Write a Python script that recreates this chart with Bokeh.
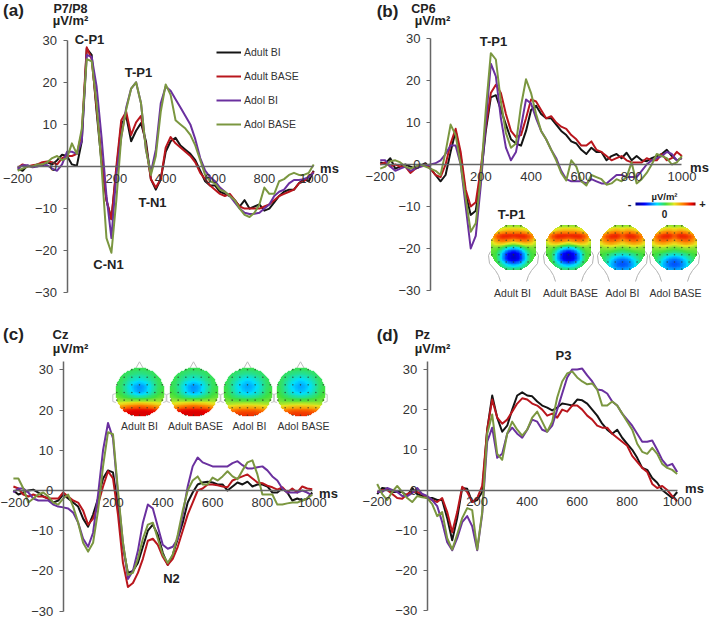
import numpy as np
from bokeh.plotting import figure
from bokeh.embed import file_html
from bokeh.resources import INLINE
from bokeh.layouts import column, row
from bokeh.models import Label, FixedTicker, LinearColorMapper, Legend, LegendItem, Range1d

time_ms = list(range(-200, 1001, 20))
series_names = ["Adult BI", "Adult BASE", "Adol BI", "Adol BASE"]
series_colors = ["#141414", "#b9161d", "#6a309f", "#7b9740"]
y_ticks = [-30, -20, -10, 0, 10, 20, 30]
x_ticks = [-200, 200, 400, 600, 800, 1000]

a_adult_bi = [-0.5,-1,0.2,0,0.5,0.2,1,0.5,1.5,2.8, 2.5,0.5,0.2,6,28,26.5,13,1,-8,-12.5,
              -1,10,12,6,8.5,10.3,6,-3,-5.5,-3, 3.5,6,6.8,5,4,3,1.5,-1,-3.5,-4.5,
              -4.5,-6,-6.5,-7,-8,-9.5,-8,-10,-9.5,-9, -10.5,-10,-8.5,-7,-6,-5.5,-5.5,-4,-3,-3.5, -1]
a_adult_base = [-0.3,0.5,0,0.3,0.5,1,1.2,1,0.5,2, 2.5,2.5,3,8,28.3,25.5,14,2,-8,-12.5,
                0,11,13,7.5,10.5,12,5,-3,-5,-3, 4.5,7,5.5,4.5,3.5,2.5,1,-1.5,-3,-4.5,
                -5.5,-6.5,-7,-6.5,-8,-9.5,-10,-10,-10,-10, -9.5,-9,-8,-7,-6.5,-6,-5.5,-4,-3.5,-2.5, -1.2]
a_adol_bi = [-0.5,0.3,0.3,-0.2,0,0.5,0.3,-0.5,-1,0.5, 3.5,3.5,3,6,26.5,26,19,7,-7,-17,
             -2,7,14,18.5,20,15,4,-1.5,4,15, 19,18,16,14,12,10,6.5,2,-1,-2.5,
             -3.5,-5,-6,-7,-8.5,-10,-11,-11.3,-11.2,-11, -10,-9,-7,-6,-5.5,-4,-3.2,-3.2,-3,-2.5, -1.5]
a_adol_base = [-1,-0.5,0,0,0.5,0.5,1,2,2.5,1.5, 2,5.5,3,9,25.5,25,15,0,-17,-20.5,
               -8,7,13.5,18.5,20,15,4,-2,2.5,13, 19.5,17,11,10,9,7.5,5,1.5,-2,-3.5,
               -4,-5.5,-6,-7,-8,-10,-11.5,-12,-11,-9, -5,-6.5,-6.5,-3.5,-3,-2,-1.5,-2,-2,-1.5, 0.5]

b_adult_bi = [0.5,0.2,1.5,-1,-0.5,0,-0.5,-1,-0.3,0.3, -1,-2.5,-4,-2.5,3,8,2,-7,-12,-11,
              -3,8,16,16.5,13,9.5,6,5,4.5,8, 13,14,12,11,11,9.5,8,7,5.5,5,
              3.5,2.5,4,3,3,1,2,2.5,1.5,2.8, 1,2,1,0.8,1.5,2,2.5,3.5,2,1, 1.5]
b_adult_base = [0,0.5,-0.5,0,-0.5,-0.5,-2,-1,-0.5,0, -1,-2.5,-3,0,5,8.5,3,-6,-10,-9,
                -1,9,17,19,17,12,8,6.5,7,11, 15.5,15,13,11,11.5,10,9,8.5,7,6,
                4.5,4.5,5.5,3.5,3,2,1,1.5,2,1, 0.5,0.5,0.5,1.5,1,1,2.5,1,1.5,3, 2]
b_adol_bi = [1,1,-0.5,-1.5,-1,-0.5,-1.5,-1,-0.5,-0.3, 0,0.3,1,2.5,4.5,4.5,0,-10,-20,-17,
             -5,10,24,21,11,4,1,3,9,15.5, 14.5,11,8,6,3.5,1.5,-1.5,-3.5,-4,-4,
             -4,-4.5,-3.5,-4,-4.5,-4.5,-3.5,-2.5,-2.5,-3, -3,-3,-1.5,0,1,1.5,2,3,2.5,1, 1.5]
b_adol_base = [-1,-0.5,0.8,1,0.5,-0.5,-1,-0.5,0,-0.5, -1,-1.5,-2.5,3,9.5,7,0,-8,-16,-14,
               -3,13,26.5,25,15,7.5,4,5,14,20.3, 17,12,8,6,3.5,1,-2,-3.8,1,-0.5,
               -4,-5,-2.5,-3,-3.5,-4.8,-4.5,-3.5,-4,-3, 0.5,-4.5,-3.5,-2,0,2.5,2,1.5,0,0.5, 2]

c_adult_bi = [0,-1,-0.5,0,0.2,-0.5,-1.5,-2,-3,-2.5, -1,-2,-3,-4,-7,-9,-6,-2,3,5,
              4.5,-4,-14,-20.5,-20,-18,-14,-10,-8.5,-11, -15.5,-18.5,-16,-12,-8,-3,-0.5,1.5,2,2.2,
              2,1.5,1.5,0,1,2,1.5,2.2,1,1.5, 1.5,1,-0.5,-0.5,0.5,-0.5,-2.5,-2,-2.5,-2, -0.5]
c_adult_base = [1,0.5,-1,-1.5,-1,-1.5,-1.5,-2,-2,-2, -0.5,-1.5,-2.5,-3,-5,-8.5,-7,-3.5,1,4.8,
                3,-6,-18,-24,-23,-20.5,-17,-12.5,-12,-13.5, -16.5,-18.5,-17,-14,-10,-6,-3,0,0.5,1.5,
                1.5,1.3,1,0.8,2.5,3,3.5,4,3,2, 1.8,1.2,0.8,0.2,0.8,-0.5,0.5,-0.5,1,0.5, 0.3]
c_adol_bi = [-0.5,0.5,0.5,-0.5,-2,-2.5,-2.5,-2.5,-3.5,-4, -4.2,-4.5,-5.5,-8,-12,-14,-10.5,-1,10,16.8,
             13,-1,-13,-22,-20,-15,-8,-3.5,-4.5,-9, -13.5,-14.5,-14,-12,-6,1,6,8.2,7,6.5,
             6,6,6,6,6.8,7.3,6.3,5.5,5.5,5.8, 6,5,3.5,2.5,0.5,-0.5,-0.5,-0.5,0,-0.5, -1.2]
c_adol_base = [3,3,0.5,-3,-2,-1,-0.5,-1.5,-3,-3.5, -2,-1,-4,-8,-13,-15.2,-13,-5,6,14.5,
               14,0,-13,-21,-20.5,-17,-12,-8.5,-8,-12, -16,-18,-16,-11,-5,0,2.5,3.5,1.5,1.5,
               3.2,2.5,3.5,4.8,3.5,2.8,5,7,7.5,4, -1,-1,-1,-3.5,-3.5,-3.2,-3,-3,-2.5,-2, -1]

d_adult_bi = [-1,0.5,0.3,-0.5,-0.5,-0.5,-1.5,0.5,-1,-1.5, -2,-2,-2.5,-2.5,-7,-12.5,-7,0.5,0.3,-3,
              -2.5,-0.5,15,23.5,18,14.5,16,20,23.5,24.3, 23.5,23.3,22,21,20.5,19.8,20.5,21.5,21.3,21,
              22.5,22.3,21.5,20,18.5,16.5,15,14,15,13, 11.5,10,8,5.5,5,3,1.8,0,-1,-2, -0.5]
d_adult_base = [-0.5,0,0,-1,-2,-2.2,-1,-0.5,-0.5,-1, -2,-2.5,-3,-2,-5.5,-10.5,-5.5,0.8,-0.5,-3,
                -2,1,15,22.5,18,16.5,17.5,19.5,21.5,22.8, 22.5,21.5,21,20,18.5,19,18,20,19.5,21,
                21,20,18.5,17.5,16,15.5,15.5,14,13,12, 11,8.5,7,5.5,4.5,1.5,0.5,1,0,-1.5, -2.8]
d_adol_bi = [-0.5,-0.5,0.5,0,-0.5,-1.5,-1.5,-0.8,0.5,-1, -1.5,-2.5,-4,-8,-13,-15,-12,-8,-6.5,-9,
             -15,-6,12,15.5,8,9,14,15.5,14,13, 15,17.5,17,15,14.5,16,20,24,28,30,
             30,30.2,28.5,27,25,24.8,24,22,21,19, 17.5,16,14,12,12,12.3,10,7.5,6,6.5, 4.5]
d_adol_base = [1.5,-1,-2.5,-0.5,1,-0.5,-2,-3,-1.5,-1.8, -2,-3.5,-6.5,-5.5,-12,-14.8,-11,-7,-4.5,-5,
               -14.8,-5.5,14,18.8,9,7.5,14,17,15,13.5, 15,18,19.5,17,14.5,17,23,27,29,29.5,
               28,27,26.3,26.5,25,21,21,22,21,19, 17,15,11.5,9.5,9,10.5,9,6.5,5.5,5, 4]

panel_series = {
    "a": [a_adult_bi, a_adult_base, a_adol_bi, a_adol_base],
    "b": [b_adult_bi, b_adult_base, b_adol_bi, b_adol_base],
    "c": [c_adult_bi, c_adult_base, c_adol_bi, c_adol_base],
    "d": [d_adult_bi, d_adult_base, d_adol_bi, d_adol_base],
}

# scalp maps: coarse fields, front row first, 0 = most negative, 1 = most positive
tp1_adult = [[.52]*9,
             [.55,.60,.68,.72,.72,.72,.68,.60,.55],
             [.68,.86,.93,.94,.93,.94,.93,.86,.68],
             [.60,.74,.80,.76,.70,.76,.80,.74,.60],
             [.55,.55,.50,.40,.36,.40,.50,.55,.55],
             [.52,.50,.34,.16,.08,.16,.34,.50,.52],
             [.52,.50,.32,.14,.07,.14,.32,.50,.52],
             [.52,.52,.44,.34,.30,.34,.44,.52,.52],
             [.50]*9]
tp1_adol = [[.52]*9,
            [.56,.62,.70,.74,.70,.74,.70,.62,.56],
            [.70,.86,.92,.94,.86,.94,.92,.86,.70],
            [.66,.78,.82,.78,.72,.78,.82,.78,.66],
            [.56,.58,.60,.57,.55,.57,.60,.58,.56],
            [.52,.50,.47,.44,.42,.44,.47,.50,.52],
            [.50,.45,.36,.28,.25,.28,.36,.45,.50],
            [.50,.44,.32,.24,.21,.24,.32,.44,.50],
            [.48,.44,.38,.33,.31,.33,.38,.44,.48]]
n2_adult = [[.49]*9,
            [.49,.49,.47,.45,.44,.45,.47,.49,.49],
            [.49,.48,.44,.39,.37,.39,.44,.48,.49],
            [.49,.47,.39,.31,.27,.31,.39,.47,.49],
            [.51,.48,.41,.33,.29,.33,.41,.48,.51],
            [.55,.53,.50,.47,.46,.47,.50,.53,.55],
            [.66,.68,.72,.75,.77,.75,.72,.68,.66],
            [.84,.90,.95,.96,.96,.96,.95,.90,.84],
            [.88,.90,.95,.95,.95,.95,.95,.90,.88]]
n2_adol = [[.49]*9,
           [.49,.48,.46,.44,.43,.44,.46,.48,.49],
           [.49,.47,.42,.37,.34,.37,.42,.47,.49],
           [.49,.46,.38,.32,.29,.32,.38,.46,.49],
           [.51,.47,.40,.35,.32,.35,.40,.47,.51],
           [.53,.51,.48,.46,.45,.46,.48,.51,.53],
           [.60,.60,.62,.63,.64,.63,.62,.60,.60],
           [.76,.80,.84,.86,.86,.86,.84,.80,.76],
           [.82,.84,.88,.90,.90,.90,.88,.84,.82]]

stops = [(0, (0, 0, 140)), (.15, (0, 0, 255)), (.35, (0, 224, 255)), (.5, (64, 224, 64)),
         (.65, (232, 232, 32)), (.8, (255, 128, 0)), (.95, (232, 0, 0)), (1, (140, 0, 0))]
sp = [s[0] for s in stops]
palette = ["#%02x%02x%02x" % tuple(int(np.interp(i / 255, sp, [s[1][k] for s in stops])) for k in range(3))
           for i in range(256)]
mapper = LinearColorMapper(palette=palette, low=0, high=1, nan_color="rgba(0,0,0,0)")


def upsample(grid, n=64):
    g = np.array(grid, dtype=float)
    src = np.linspace(-1, 1, g.shape[0])
    dst = np.linspace(-1, 1, n)
    g = np.array([np.interp(dst, src, r) for r in g])
    g = np.array([np.interp(dst, src, c) for c in g.T]).T
    k = np.ones(5) / 5
    g = np.apply_along_axis(lambda v: np.convolve(np.pad(v, 2, mode="edge"), k, "valid"), 0, g)
    g = np.apply_along_axis(lambda v: np.convolve(np.pad(v, 2, mode="edge"), k, "valid"), 1, g)
    xx, yy = np.meshgrid(dst, dst)
    g[xx**2 + yy**2 > 1] = np.nan
    return g[::-1]


class Panel:
    """A figure placed at page pixel (fx, fy); its scales are set from page pixels."""
    def __init__(self, fx, fy, w, h, ox, oy, sx, sy, y_top):
        self.fx, self.fy, self.ox, self.oy, self.sx, self.sy = fx, fy, ox, oy, sx, sy
        p = figure(width=w, height=h, output_backend="svg", toolbar_location=None, min_border=0,
                   x_range=Range1d(self.dx(fx), self.dx(fx + w)),
                   y_range=Range1d(self.dy(fy + h), self.dy(fy)),
                   background_fill_color=None, border_fill_color=None)
        p.outline_line_color = None
        p.grid.visible = False
        p.xaxis.fixed_location = 0
        p.yaxis.fixed_location = 0
        p.xaxis.bounds = (-200, 1000)
        p.yaxis.bounds = (-30, y_top)
        p.xaxis.ticker = FixedTicker(ticks=x_ticks)
        p.yaxis.ticker = FixedTicker(ticks=y_ticks)
        for ax in (p.xaxis, p.yaxis):
            ax.axis_line_color = "#666666"
            ax.axis_line_width = 1.5
            ax.major_tick_line_color = "#666666"
            ax.minor_tick_line_color = None
            ax.major_label_text_font = "Liberation Sans"
            ax.major_label_text_font_size = "13px"
            ax.major_label_text_color = "#333333"
            ax.major_label_standoff = 6
        p.xaxis.major_tick_line_color = None
        p.xaxis.major_tick_out = 0
        p.xaxis.major_tick_in = 0
        p.xaxis.major_label_standoff = 7
        p.yaxis.major_tick_out = 4
        p.yaxis.major_tick_in = 0
        self.p = p

    def dx(self, px):
        return (px - self.ox) / self.sx

    def dy(self, py):
        return (self.oy - py) / self.sy

    def text(self, s, px, py, size=13, bold=True, color="#222222"):
        self.p.add_layout(Label(x=self.dx(px), y=self.dy(py), text=s, text_align="center",
                                text_baseline="middle", text_font="Liberation Sans",
                                text_font_size=f"{size}px", text_color=color,
                                text_font_style="bold" if bold else "normal"))

    def curves(self, key):
        out = []
        for vals, col in zip(panel_series[key], series_colors):
            out.append(self.p.line(time_ms, vals, line_color=col, line_width=2, line_join="round"))
        return out

    def head(self, grid, cx, cy, r, style):
        p = self.p
        if style == "neck":
            ear_x = [-23, -25, -24, -18, -15, -13]
            ear_y = [4, 8, 16, 23, 28, 34]
            for m in (-1, 1):
                p.line([self.dx(cx + m * v) for v in ear_x], [self.dy(cy + v) for v in ear_y],
                       line_color="#b4b4b4", line_width=1)
        else:
            p.line([self.dx(cx + v) for v in (-4, 0, 4)], [self.dy(cy + v) for v in (-r + 1, -r - 6, -r + 1)],
                   line_color="#bdbdbd", line_width=1)
            for m in (-1, 1):
                p.line([self.dx(cx + m * v) for v in (r - 1, r + 2, r + 2, r - 1)],
                       [self.dy(cy + v) for v in (1, 2, 9, 10)], line_color="#c4c4c4", line_width=1)
        p.image(image=[upsample(grid)], x=self.dx(cx - r), y=self.dy(cy + r), dw=2 * r / self.sx,
                dh=2 * r / self.sy, color_mapper=mapper)
        off = np.array([-.92, -.62, -.31, 0, .31, .62, .92])
        xs, ys = np.meshgrid(off, off)
        keep = xs**2 + ys**2 <= 1.02
        p.scatter(self.dx(cx + xs[keep] * r), self.dy(cy + ys[keep] * r), size=1.6, color="#2a3a2a",
                  line_color=None, alpha=0.75)


# (a)
A = Panel(0, 0, 350, 310, 66.5, 166, 0.2467, 4.21, 30)
ra = A.curves("a")
A.p.add_layout(Legend(items=[LegendItem(label=n, renderers=[r]) for n, r in zip(series_names, ra)],
                      location=(216, 174), padding=0, margin=0, spacing=0, glyph_width=25, glyph_height=24,
                      label_height=24, label_standoff=3, border_line_color=None, background_fill_alpha=0,
                      label_text_font="Liberation Sans", label_text_font_size="10.5px",
                      label_text_color="#333333"))
A.text("(a)", 13, 10, 17)
A.text("P7/P8", 70, 8, 12.5)
A.text("µV/m²", 70, 20)
A.text("C-P1", 89, 39)
A.text("T-P1", 138, 72)
A.text("T-N1", 152, 202)
A.text("C-N1", 108, 264)
A.text("ms", 329, 168)

# (b)
B = Panel(350, 0, 359, 310, 430, 164, 0.2514, 4.2, 30)
B.curves("b")
B.text("(b)", 387, 11, 17)
B.text("CP6", 423, 8, 12.5)
B.text("µV/m²", 432, 20)
B.text("T-P1", 493, 41)
B.text("ms", 699, 167)
B.text("T-P1", 511, 214)
b_heads = [513, 568, 622, 674]
b_labels = [512, 570, 622, 675]
for g, cx, lx, n in zip([tp1_adult, tp1_adult, tp1_adol, tp1_adol], b_heads, b_labels, series_names):
    B.head(g, cx, 247, 23.5, "neck")
    B.text(n, lx, 292, 10.5, False, "#333333")
B.p.image(image=[np.linspace(0, 1, 128).reshape(1, -1)], x=B.dx(635), y=B.dy(205), dw=60 / B.sx,
          dh=3 / B.sy, color_mapper=mapper)
B.text("µV/m²", 664, 196, 9.5)
B.text("-", 629, 203, 11)
B.text("+", 702, 203, 11)
B.text("0", 664, 213, 10)

# (c)
C = Panel(0, 310, 350, 308, 62.7, 490, 0.249, 4.02, 32)
C.curves("c")
C.text("(c)", 13, 334, 17)
C.text("Cz", 60, 334)
C.text("µV/m²", 70, 348)
C.text("N2", 171, 578)
C.text("ms", 328, 493)
c_heads = [139, 193, 247, 300]
c_labels = [139, 195, 249, 303]
for g, cx, lx, n in zip([n2_adult, n2_adult, n2_adol, n2_adol], c_heads, c_labels, series_names):
    C.head(g, cx, 392, 24.7, "nose")
    C.text(n, lx, 425, 10.5, False, "#333333")

# (d)
D = Panel(350, 310, 359, 308, 426.7, 489.5, 0.25, 4.02, 32)
D.curves("d")
D.text("(d)", 387, 335, 17)
D.text("Pz", 422, 334)
D.text("µV/m²", 432, 348)
D.text("P3", 563, 355)
D.text("ms", 694, 488)

page = column(row(A.p, B.p, spacing=0), row(C.p, D.p, spacing=0), spacing=0)
open("out.html", "w").write(file_html(page, INLINE))
